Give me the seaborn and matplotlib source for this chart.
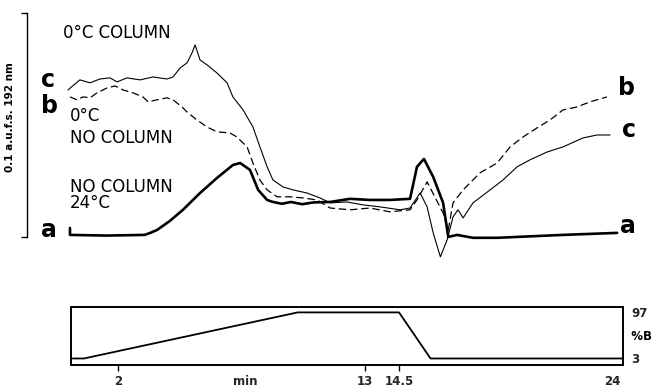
import matplotlib
matplotlib.use("Agg")
import matplotlib.pyplot as plt
import seaborn as sns

# ---- data (time in min, absorbance in mAU; 0.1 a.u.f.s. = 100) ----
a_time = [-0.12, -0.12, 1.5, 3.2, 3.45, 3.75, 4.3, 4.90, 5.66, 6.41, 7.12, 7.44, 7.88, 8.24, 8.64,
          8.90, 9.3, 9.7, 10.2, 10.7, 11.44, 12.32, 13.21, 14.10, 14.99, 15.30, 15.61, 16.02,
          16.46, 16.69, 17.08, 17.35, 17.79, 18.86, 21.79, 24.19]
a_abs = [4.0, 0.9, 0.6, 0.9, 1.8, 3.1, 7.0, 12.1, 19.6, 26.3, 32.1, 33.0, 29.9, 21.0, 16.5,
         15.6, 14.8, 15.6, 14.6, 15.4, 15.6, 17.0, 16.5, 16.5, 17.0, 31.3, 34.8, 26.8,
         15.2, 0.0, 0.9, 0.4, -0.4, -0.4, 0.9, 1.8]

c_time = [-0.21, 0.32, 0.77, 1.21, 1.66, 1.97, 2.41, 2.99, 3.57, 4.19, 4.46, 4.77, 5.08, 5.30,
          5.44, 5.66, 5.97, 6.41, 6.86, 7.12, 7.57, 8.01, 8.32, 8.64, 8.90, 9.35, 9.79, 10.41,
          10.99, 11.44, 12.19, 12.90, 13.66, 14.55, 14.99, 15.44, 15.75, 16.02, 16.34, 16.64,
          16.90, 17.12, 17.35, 17.79, 18.55, 19.12, 19.75, 20.32, 21.08, 21.79, 22.68, 23.30, 23.88]
c_abs = [65.6, 70.1, 68.8, 70.5, 71.0, 69.2, 71.0, 70.1, 71.4, 70.5, 71.4, 75.4, 77.7, 82.1,
         85.7, 79.0, 76.8, 73.2, 68.8, 62.5, 56.7, 49.1, 40.2, 31.3, 25.4, 22.3, 21.0, 19.6,
         17.4, 15.2, 15.6, 14.3, 13.4, 12.1, 12.9, 19.6, 13.4, 1.8, -8.9, -1.3,
         8.9, 12.1, 8.5, 15.2, 21.0, 25.4, 31.3, 34.4, 37.9, 40.2, 44.2, 45.5, 45.5]

b_time = [-0.12, 0.19, 0.46, 0.77, 1.08, 1.52, 1.88, 2.24, 2.68, 3.12, 3.35, 3.75, 4.19, 4.46,
          4.86, 5.08, 5.52, 5.97, 6.41, 6.99, 7.30, 7.75, 8.01, 8.32, 8.64, 9.08, 9.66, 10.24,
          10.86, 11.44, 12.32, 13.21, 14.10, 14.99, 15.30, 15.75, 16.46, 16.69, 16.90, 17.35,
          18.10, 18.86, 19.44, 20.01, 20.64, 21.21, 21.79, 22.41, 22.99, 23.74]
b_abs = [62.5, 61.2, 62.5, 62.1, 64.3, 66.5, 67.4, 65.6, 64.3, 62.5, 60.3, 61.2, 62.1, 61.2,
         58.0, 55.8, 52.2, 49.1, 46.9, 46.4, 44.6, 40.2, 33.0, 25.4, 21.0, 17.9, 17.9, 17.4,
         16.5, 12.9, 12.1, 12.9, 11.2, 12.1, 16.5, 24.6, 10.7, 3.1, 15.2, 21.0,
         28.6, 33.0, 40.2, 44.6, 48.7, 52.2, 56.7, 58.0, 60.3, 62.5]

grad_time = [0, 0.5, 10.0, 14.5, 15.9, 24.4]
grad_B = [3, 3, 97, 97, 3, 3]

x_ticks = [2, 7.66, 13, 14.5, 24]
x_ticklabels = ["2", "min", "13", "14.5", "24"]
y_ticks = [3, 97]
y_ticklabels = ["3", "97"]

sns.set_theme(style="white")
plt.rcParams['font.family'] = ['DejaVu Sans']

W, H = 652, 389
fig = plt.figure(figsize=(W / 100, H / 100), dpi=100)
fig.patch.set_facecolor("white")

def px_ax(x0, y0, x1, y1):
    return fig.add_axes([x0 / W, 1 - y1 / H, (x1 - x0) / W, (y1 - y0) / H])

# ---- top chromatogram ----
ax = px_ax(27, 10, 640, 262)
ax.set_facecolor("none")
sns.lineplot(x=a_time, y=a_abs, ax=ax, sort=False, estimator=None, color="black", lw=1.9)
sns.lineplot(x=c_time, y=c_abs, ax=ax, sort=False, estimator=None, color="black", lw=0.8)
sns.lineplot(x=b_time, y=b_abs, ax=ax, sort=False, estimator=None, color="black", lw=0.9,
             linestyle=(0, (6, 3)))
ax.set_xlim(-2.03, 25.21)
ax.set_ylim(-11.2, 101.3)
for s in ["top", "right", "bottom"]:
    ax.spines[s].set_visible(False)
ax.spines["left"].set_bounds(0, 100)
ax.spines["left"].set_color("black")
ax.spines["left"].set_linewidth(1.0)
ax.set_xticks([])
ax.set_yticks([0, 100])
ax.set_yticklabels([])
ax.tick_params(axis="y", direction="out", length=4, width=1.0, color="black", left=True)
ax.set_xlabel("")
ax.set_ylabel("")

lbl = dict(fontsize=12, color="black", ha="left", va="baseline")
ax.text(-0.43, 88.8, "0°C COLUMN", **lbl)
ax.text(-0.12, 42.0, "0°C\nNO COLUMN", linespacing=1.26, **lbl)
ax.text(-0.12, 12.9, "NO COLUMN\n24°C", linespacing=0.89, **lbl)

big = dict(fontsize=17, fontweight="bold", color="black", ha="center", va="baseline")
ax.text(-1.08, 67.0, "c", **big)
ax.text(-1.05, 55.4, "b", **big)
ax.text(-1.05, 0.0, "a", **big)
ax.text(24.62, 63.4, "b", **big)
ax.text(24.70, 44.6, "c", **big)
ax.text(24.66, 1.8, "a", **big)

fig.text(10 / W, 1 - 117 / H, "0.1 a.u.f.s. 192 nm", rotation=90, ha="center", va="center",
         fontsize=7.5, fontweight="bold", color="black")

# ---- bottom gradient panel ----
bx = px_ax(71, 307, 622.7, 365)
bx.set_facecolor("white")
sns.lineplot(x=grad_time, y=grad_B, ax=bx, sort=False, estimator=None, color="black", lw=1.3)
bx.set_xlim(-0.076, 24.44)
bx.set_ylim(-10.3, 108)
for s in bx.spines.values():
    s.set_visible(True)
    s.set_color("black")
    s.set_linewidth(1.4)
bx.set_xticks(x_ticks)
bx.set_xticklabels(x_ticklabels, fontsize=8.5, fontweight="bold")
bx.tick_params(axis="x", direction="out", length=4, width=1.0, color="black", bottom=True, pad=3)
for i in (1, 4):
    bx.xaxis.get_major_ticks()[i].tick1line.set_visible(False)
bx.yaxis.tick_right()
bx.set_yticks(y_ticks)
bx.set_yticklabels(y_ticklabels, fontsize=8.5, fontweight="bold")
bx.tick_params(axis="y", length=0, pad=6, right=False)
bx.set_xlabel("")
bx.set_ylabel("")
bx.text(1.0, 0.5, "  %B", transform=bx.transAxes, ha="left", va="center",
        fontsize=8.5, fontweight="bold", color="black")

fig.savefig("out.png", dpi=100, facecolor="white")
